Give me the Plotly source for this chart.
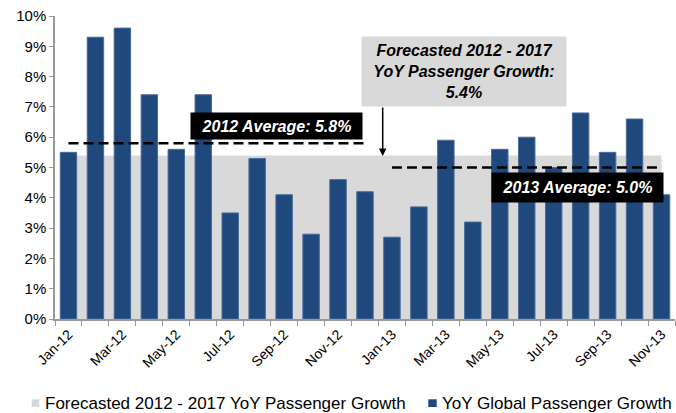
import plotly.graph_objects as go

months = ["Jan-12", "Feb-12", "Mar-12", "Apr-12", "May-12", "Jun-12", "Jul-12", "Aug-12",
          "Sep-12", "Oct-12", "Nov-12", "Dec-12", "Jan-13", "Feb-13", "Mar-13", "Apr-13",
          "May-13", "Jun-13", "Jul-13", "Aug-13", "Sep-13", "Oct-13", "Nov-13"]
growth = [5.5, 9.3, 9.6, 7.4, 5.6, 7.4, 3.5, 5.3, 4.1, 2.8, 4.6, 4.2,
          2.7, 3.7, 5.9, 3.2, 5.6, 6.0, 5.0, 6.8, 5.5, 6.6, 4.1]
forecast_value = 5.4
avg_2012 = 5.8
avg_2013 = 5.0
months_2012 = months[:12]
months_2013 = months[12:]
y_ticks = list(range(0, 11))
y_labels = [f"{v}%" for v in y_ticks]
x_labels = [m if i % 2 == 0 else "" for i, m in enumerate(months)]

FONT = "Liberation Sans, Arial, sans-serif"
BLUE = "#1f497d"
GRAY = "#d9d9d9"

# plot area in pixels
L, T, W, H = 55, 16, 620, 303
def px(x):
    return (x - L) / W
def py(y):
    return (T + H - y) / H

fig = go.Figure()
# gray forecast area on the base axes (drawn underneath)
fig.add_trace(go.Scatter(x=months, y=[forecast_value] * len(months), mode="lines",
                         fill="tozeroy", fillcolor=GRAY, line=dict(width=0, color=GRAY),
                         name="Forecasted 2012 - 2017 YoY Passenger Growth",
                         hoverinfo="skip", showlegend=False, xaxis="x", yaxis="y"))
# bars and averages on overlaid axes (drawn on top)
fig.add_trace(go.Bar(x=months, y=growth, marker=dict(color=BLUE, line=dict(color="#4a6b98", width=1)),
                     name="YoY Global Passenger Growth", showlegend=False, xaxis="x2", yaxis="y2"))
fig.add_trace(go.Scatter(x=months_2012, y=[avg_2012] * len(months_2012), mode="lines",
                         line=dict(color="black", width=2.5, dash="10px,5px"), showlegend=False,
                         hoverinfo="skip", xaxis="x2", yaxis="y2"))
fig.add_trace(go.Scatter(x=months_2013, y=[avg_2013] * len(months_2013), mode="lines",
                         line=dict(color="black", width=2.5, dash="10px,5px"), showlegend=False,
                         hoverinfo="skip", xaxis="x2", yaxis="y2"))

annotations = [
    dict(xref="paper", yref="paper", x=px(276.5), y=py(126.3), text="<b><i>2012 Average: 5.8%</i></b>",
         showarrow=False, bgcolor="black", font=dict(color="white", size=16, family=FONT),
         width=171, height=26, borderpad=0, xanchor="center", yanchor="middle"),
    dict(xref="paper", yref="paper", x=px(577.5), y=py(187.2), text="<b><i>2013 Average: 5.0%</i></b>",
         showarrow=False, bgcolor="black", font=dict(color="white", size=16, family=FONT),
         width=171, height=29, borderpad=0, xanchor="center", yanchor="middle"),
    dict(xref="paper", yref="paper", x=px(464), y=py(71.5),
         text="<b><i>Forecasted 2012 - 2017<br>YoY Passenger Growth:<br>5.4%</i></b>",
         showarrow=False, bgcolor=GRAY, font=dict(color="black", size=16, family=FONT),
         width=204, height=69, borderpad=0, xanchor="center", yanchor="middle"),
    dict(xref="paper", yref="paper", x=px(382.7), y=py(156), ax=0, ay=-50, text="",
         showarrow=True, arrowhead=2, arrowsize=1, arrowwidth=1.5, arrowcolor="black", standoff=0),
    dict(xref="paper", yref="paper", x=px(42.5), y=py(403), text="Forecasted 2012 - 2017 YoY Passenger Growth",
         showarrow=False, xanchor="left", yanchor="middle", font=dict(color="black", size=17, family=FONT)),
    dict(xref="paper", yref="paper", x=px(439.5), y=py(403), text="YoY Global Passenger Growth",
         showarrow=False, xanchor="left", yanchor="middle", font=dict(color="black", size=17, family=FONT)),
]

shapes = [
    dict(type="rect", xref="paper", yref="paper", x0=px(31.7), x1=px(39.3), y0=py(407), y1=py(399.3),
         fillcolor=GRAY, line=dict(width=0)),
    dict(type="rect", xref="paper", yref="paper", x0=px(428.3), x1=px(436.7), y0=py(407), y1=py(399.3),
         fillcolor=BLUE, line=dict(width=0)),
]

x_range = [-0.5, len(months) - 0.5]
fig.update_layout(
    width=676, height=413,
    margin=dict(l=L, r=676 - L - W, t=T, b=413 - T - H),
    paper_bgcolor="white", plot_bgcolor="white",
    bargap=0.39,
    font=dict(family=FONT, color="black"),
    annotations=annotations, shapes=shapes,
    showlegend=False,
    xaxis=dict(type="category", categoryorder="array", categoryarray=months,
               range=x_range,
               tickvals=months, ticktext=x_labels, tickangle=-45, tickson="boundaries",
               ticks="outside", ticklen=5, tickcolor="#999999", showline=True, linecolor="#999999",
               linewidth=1.5, showgrid=False, tickfont=dict(size=14, color="black")),
    yaxis=dict(range=[0, 10], tickvals=y_ticks, ticktext=y_labels, ticks="outside", ticklen=4,
               tickcolor="#999999", showline=True, linecolor="#999999", linewidth=1.5,
               showgrid=False, zeroline=False, tickfont=dict(size=15, color="black")),
    xaxis2=dict(type="category", categoryorder="array", categoryarray=months, range=x_range,
                overlaying="x", matches="x", visible=False, showgrid=False),
    yaxis2=dict(range=[0, 10], overlaying="y", matches="y", visible=False, showgrid=False,
                zeroline=False),
)

fig.write_html("out.html")
